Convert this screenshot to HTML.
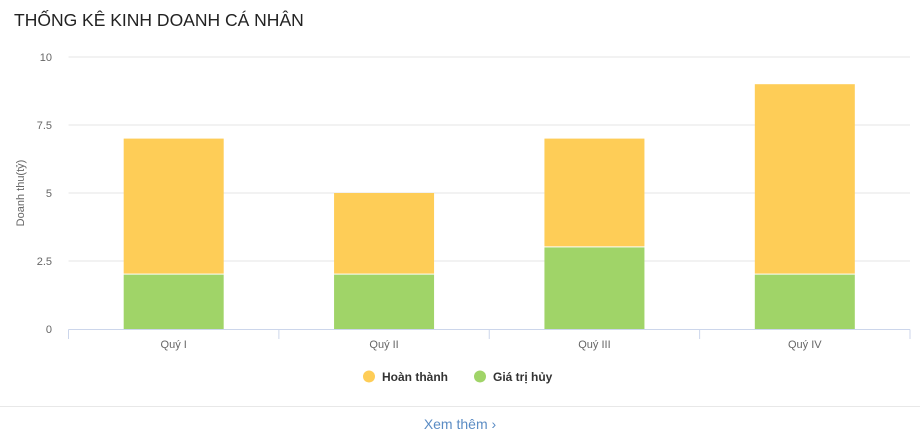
<!DOCTYPE html>
<html><head><meta charset="utf-8"><style>
body{margin:0;width:920px;height:441px;background:#fff;overflow:hidden;font-family:"Liberation Sans","DejaVu Sans",sans-serif}
#title{position:absolute;left:14px;top:10px;font-size:17.5px;color:#222;margin:0;font-weight:normal;letter-spacing:0}
#sep{position:absolute;left:0;top:406px;width:920px;height:1px;background:#e8e8e8}
#more{position:absolute;left:0;width:920px;top:416px;text-align:center;color:#5b8cc4;font-size:14px}
svg{position:absolute;left:0;top:0}
</style></head><body>
<h1 id="title">THỐNG KÊ KINH DOANH CÁ NHÂN</h1>
<svg id="chart" width="920" height="400"></svg>
<div id="sep"></div>
<div id="more">Xem thêm ›</div>
<script>
const categories=["Quý I","Quý II","Quý III","Quý IV"];
const huyValues=[2,2,3,2];
const hoanThanhValues=[5,3,4,7];
const yTicks=[0,2.5,5,7.5,10];
const yTickLabels=["0","2.5","5","7.5","10"];
const NS="http://www.w3.org/2000/svg";
const svg=document.getElementById('chart');
const x0=68.5,x1=910,y0=329,yTop=57,yMax=10;
const bw=(x1-x0)/categories.length;
function y(v){return y0-(v/yMax)*(y0-yTop);}
function xc(i){return x0+bw*(i+0.5);}
function mk(t,a,txt){const e=document.createElementNS(NS,t);for(const k in a)e.setAttribute(k,a[k]);if(txt!=null)e.textContent=txt;svg.appendChild(e);return e;}
yTicks.forEach((t,i)=>{
 if(t>0){const g=mk('line',{x1:x0,x2:x1,y1:y(t),y2:y(t),stroke:'#e6e6e6','stroke-width':1});
 
 }
 const l=mk('text',{x:52,y:y(t)+4,'text-anchor':'end','font-size':11,fill:'#666'},yTickLabels[i]);
 
 
});
const yt=mk('text',{transform:'translate(24,193) rotate(-90)','text-anchor':'middle','font-size':11,fill:'#666'},'Doanh thu(tỷ)');


categories.forEach((c,i)=>{
 const cx=xc(i),w=100;
 const g=mk('rect',{x:cx-w/2,y:y(huyValues[i]),width:w,height:y(0)-y(huyValues[i]),fill:'#A0D468'});
 
 
 const top=huyValues[i]+hoanThanhValues[i];
 const h=mk('rect',{x:cx-w/2,y:y(top),width:w,height:y(huyValues[i])-y(top)-1,fill:'#FECD57'});
 
 
 const l=mk('text',{x:cx,y:348,'text-anchor':'middle','font-size':11,fill:'#666'},c);
 
 
});
for(let i=0;i<=categories.length;i++){
 const t=mk('line',{x1:x0+bw*i,x2:x0+bw*i,y1:329.5,y2:339,stroke:'#ccd6eb'});
 
 
}
const ax=mk('line',{x1:x0,x2:x1,y1:329.5,y2:329.5,stroke:'#ccd6eb'});


const legend=[["Hoàn thành","#FECD57",369],["Giá trị hủy","#A0D468",480]];
legend.forEach(([n,c,lx])=>{
 const d=mk('circle',{cx:lx,cy:376.5,r:6,fill:c});
 
 
 const t=mk('text',{x:lx+13,y:381,'font-size':12,'font-weight':'bold',fill:'#333'},n);
 
 
});
</script>
</body></html>
